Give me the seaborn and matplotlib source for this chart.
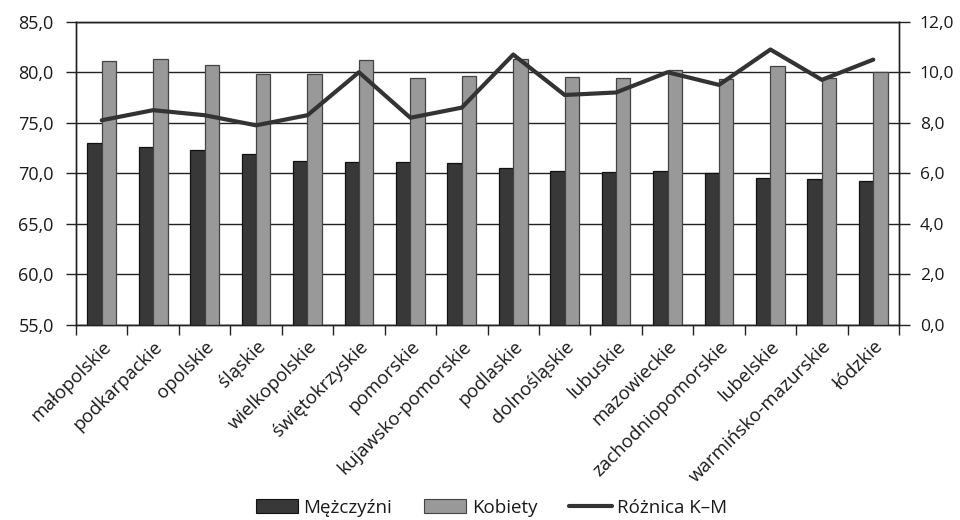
import numpy as np
import pandas as pd
import matplotlib
matplotlib.use("Agg")
import matplotlib.pyplot as plt
import seaborn as sns
from matplotlib.ticker import FuncFormatter, FixedLocator
from matplotlib.patches import Patch
from matplotlib.lines import Line2D

# Voivodeships, sorted by male life expectancy
regions = [
    "małopolskie", "podkarpackie", "opolskie", "śląskie", "wielkopolskie",
    "świętokrzyskie", "pomorskie", "kujawsko-pomorskie", "podlaskie",
    "dolnośląskie", "lubuskie", "mazowieckie", "zachodniopomorskie",
    "lubelskie", "warmińsko-mazurskie", "łódzkie",
]
men = [73.0, 72.6, 72.3, 71.9, 71.2, 71.1, 71.1, 71.0, 70.5,
       70.2, 70.1, 70.2, 70.0, 69.5, 69.4, 69.2]
women = [81.1, 81.3, 80.7, 79.8, 79.8, 81.2, 79.4, 79.6, 81.3,
         79.5, 79.4, 80.2, 79.3, 80.6, 79.4, 80.0]
gap = [8.1, 8.5, 8.3, 7.9, 8.3, 10.0, 8.2, 8.6, 10.7,
       9.1, 9.2, 10.0, 9.5, 10.9, 9.7, 10.5]

series_names = ["Mężczyźni", "Kobiety", "Różnica K–M"]
bar_colors = ["#383838", "#999999"]
line_color = "#333333"

sns.set_theme(style="white")
plt.rcParams["font.family"] = ["Open Sans", "DejaVu Sans"]

df = pd.DataFrame({
    "region": regions * 2,
    "value": men + women,
    "sex": [series_names[0]] * len(regions) + [series_names[1]] * len(regions),
})

fig = plt.figure(figsize=(9.6, 5.2), dpi=100)
ax = fig.add_axes([76 / 960, 1 - 325 / 520, (899 - 76) / 960, (325 - 21.7) / 520])

sns.barplot(data=df, x="region", y="value", hue="sex", order=regions,
            hue_order=series_names[:2], palette=bar_colors, width=0.56,
            gap=0, dodge=True, ax=ax, legend=False, errorbar=None)
for bar, ec in zip(ax.patches, ["#111111"] * len(regions) + ["#444444"] * len(regions)):
    bar.set_edgecolor(ec)
    bar.set_linewidth(0.9)
    bar.set_zorder(3)

n = len(regions)
ax.set_xlim(-0.5, n - 0.5)
ax.set_ylim(55, 85)
ax.set_yticks(np.arange(55, 85.1, 5))
ax.yaxis.set_major_formatter(FuncFormatter(lambda v, _: f"{v:.1f}".replace(".", ",")))
ax.grid(axis="y", color="#222222", linewidth=1.0, zorder=0)
ax.set_axisbelow(True)
ax.set_xlabel("")
ax.set_ylabel("")

# category labels at bar groups, tick marks between groups
ax.set_xticks(np.arange(n))
ax.set_xticklabels(regions, rotation=45, ha="right", rotation_mode="anchor",
                   fontsize=13.5, color="#1a1a1a")
ax.xaxis.set_minor_locator(FixedLocator(np.arange(-0.5, n, 1.0)))
ax.tick_params(axis="x", which="major", length=0, pad=9)
ax.tick_params(axis="x", which="minor", length=7, width=1.0, color="#222222",
               direction="out", bottom=True)
ax.tick_params(axis="y", length=7, width=1.0, color="#222222", direction="out",
               left=True, labelsize=13, labelcolor="#1a1a1a", pad=9)

for side in ["left", "bottom", "top", "right"]:
    ax.spines[side].set_color("#222222")
    ax.spines[side].set_linewidth(1.0)

ax2 = ax.twinx()
sns.lineplot(x=np.arange(n), y=gap, color=line_color, linewidth=3.0, ax=ax2,
             zorder=5)
ax2.set_ylim(0, 12)
ax2.set_yticks(np.arange(0, 12.1, 2))
ax2.yaxis.set_major_formatter(FuncFormatter(lambda v, _: f"{v:.1f}".replace(".", ",")))
ax2.tick_params(axis="y", length=8, width=1.0, color="#222222", direction="out",
                right=True, labelsize=12.5, labelcolor="#1a1a1a", pad=7)
ax2.set_xlim(-0.5, n - 0.5)
ax2.set_ylabel("")
for side in ["left", "bottom", "top", "right"]:
    ax2.spines[side].set_color("#222222")
    ax2.spines[side].set_linewidth(1.0)

handles = [
    Patch(facecolor=bar_colors[0], edgecolor="#111111", linewidth=0.8),
    Patch(facecolor=bar_colors[1], edgecolor="#444444", linewidth=0.8),
    Line2D([0], [0], color=line_color, linewidth=3.0),
]
fig.legend(handles, series_names, loc="center", bbox_to_anchor=(0.512, 0.024),
           ncol=3, frameon=False, fontsize=13.5, handlelength=2.25,
           handleheight=0.75, handletextpad=0.3, columnspacing=1.7,
           labelcolor="#1a1a1a")

fig.savefig("out.png", dpi=100, facecolor="white")
